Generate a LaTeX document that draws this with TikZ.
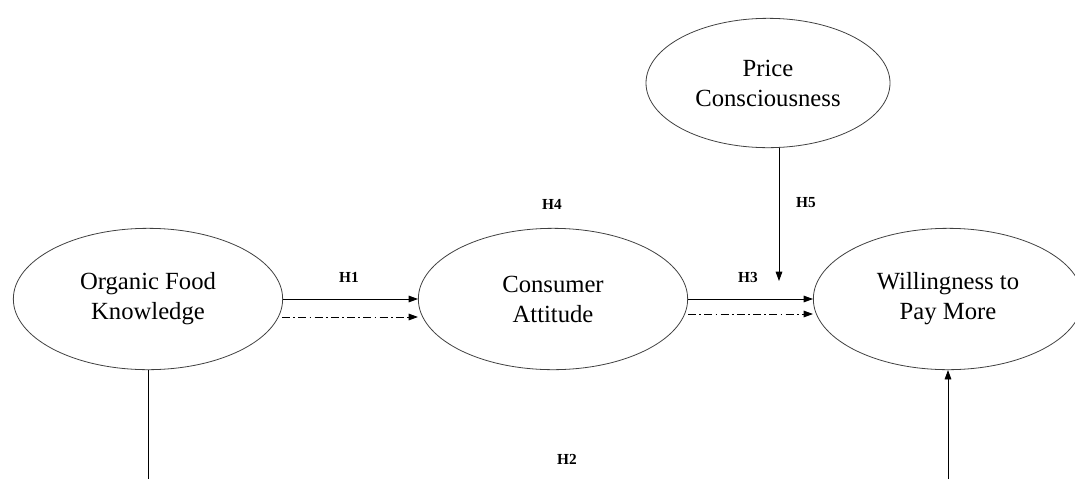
\documentclass[tikz,border=0pt]{standalone}
\usepackage{fontspec}
\setmainfont{Liberation Serif}
\usetikzlibrary{shapes.geometric,arrows.meta,calc}
\begin{document}
\begin{tikzpicture}[x=0.75pt,y=-0.75pt,
  construct/.style={ellipse,draw=black!75,line width=0.6pt,inner sep=0pt,minimum width=202pt,minimum height=106pt,align=center,font=\fontsize{18.5}{22.5}\selectfont},
  small/.style={ellipse,draw=black!75,line width=0.6pt,inner sep=0pt,minimum width=183pt,minimum height=97pt,align=center,font=\fontsize{18.5}{22.5}\selectfont},
  hyp/.style={font=\bfseries\fontsize{11.5}{13}\selectfont},
  link/.style={line width=0.6pt,-{Triangle[length=7pt,width=5pt]}},
  dashdot/.style={line width=0.6pt,dash pattern=on 6pt off 2.5pt on 1.2pt off 2.5pt,-{Triangle[length=7pt,width=5pt]}}]
\useasboundingbox (0,0) rectangle (1075,479);
\clip (0,0) rectangle (1075,479);
\node[construct] (ofk) at (148,299) {Organic Food\\Knowledge};
\node[construct] (ca) at (553,299) {Consumer\\Attitude};
\node[construct] (wpm) at (948,299) {Willingness to\\Pay More};
\node[small] (pc) at (768,83) {Price\\Consciousness};
\coordinate (bl) at (148,479);
\coordinate (br) at (948,479);
\coordinate (h5end) at (779,281);
\node[hyp] (h1) at (349,277) {H1};
\node[hyp] (h3) at (748,277) {H3};
\node[hyp] (h4) at (552,204) {H4};
\node[hyp] (h5) at (806,203) {H5};
\node[hyp] (h2) at (567,459) {H2};
\draw[link] (ofk.east) -- (ca.west);
\draw[dashdot] ($(ofk.east)+(-1,18)$) -- ($(ca.west)+(0,18)$);
\draw[link] (ca.east) -- (wpm.west);
\draw[dashdot] ($(ca.east)+(0,15)$) -- ($(wpm.west)+(0,15)$);
\draw[link] (pc.south -| h5end) -- (h5end);
\draw[line width=0.6pt] (ofk.south) -- (bl);
\draw[link] (br) -- (wpm.south);
\end{tikzpicture}
\end{document}
